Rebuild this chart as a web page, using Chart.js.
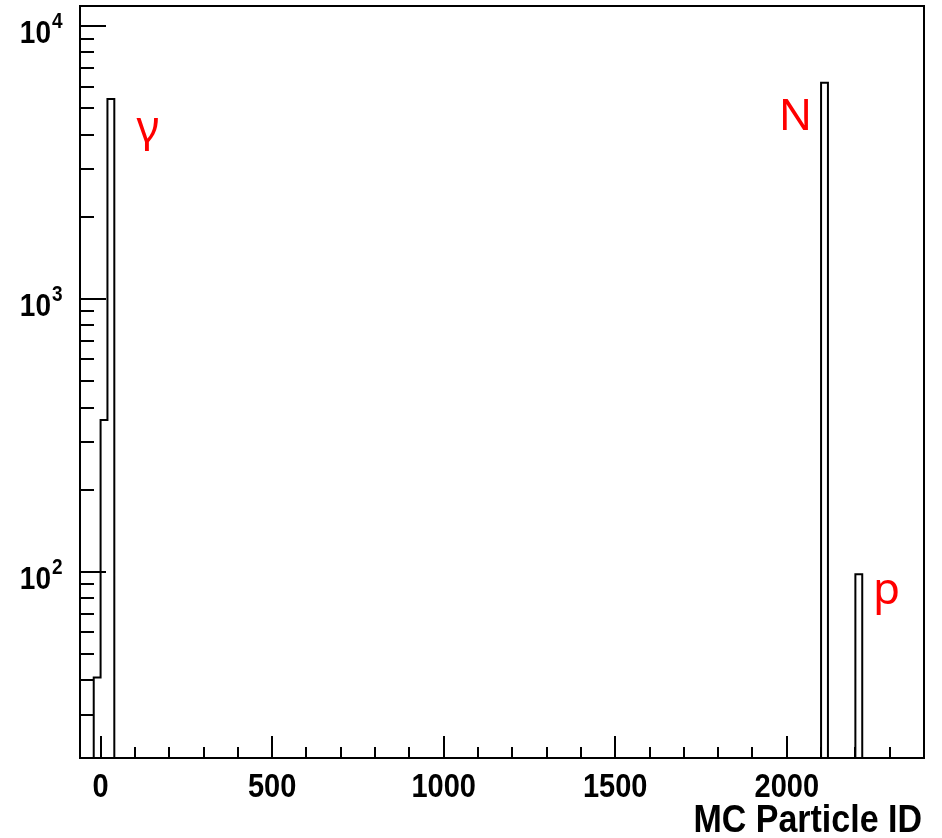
<!DOCTYPE html>
<html>
<head>
<meta charset="utf-8">
<script src="https://cdn.jsdelivr.net/npm/chart.js@4"></script>
<style>
  html, body { margin: 0; padding: 0; background: #fff; }
  canvas { display: block; }
</style>
</head>
<body>
<canvas id="histChart" width="942" height="838"></canvas>
<script>
// MC particle ID histogram (ROOT style, log y)

const binWidth = 20;
const xMin = -60;
const xMax = 2400;
const yMin = 20.8;
const yMax = 11840;

// non-empty bins only (lower edge + content)
const binLow = [-20, 0, 20, 2100, 2200];
const counts = [41, 360, 5400, 6200, 98];

// axis labels
const xLabelTicks = [0, 500, 1000, 1500, 2000];
const yLabelTicks = [100, 1000, 10000];
const yLabelExp = ['2', '3', '4'];
const xTitle = 'MC Particle ID';

// red annotations
const annotText = ['\u03B3', 'N', 'p'];
const annotX = [105, 1977, 2251];
const annotY = [3760, 4160, 76];

const FONT = '"Liberation Sans", Arial, sans-serif';
const STRETCH = 1.15; // the ROOT text in the picture is a bit tall

// Build step outline like ROOT draws a histogram
function buildOutline() {
    const pts = [{ x: xMin, y: yMin }];
    let prevHi = null;
    for (let i = 0; i < binLow.length; i++) {
        const lo = binLow[i];
        const hi = lo + binWidth;
        if (prevHi !== lo) {
            if (prevHi !== null) pts.push({ x: prevHi, y: yMin });
            pts.push({ x: lo, y: yMin });
        }
        pts.push({ x: lo, y: counts[i] });
        pts.push({ x: hi, y: counts[i] });
        prevHi = hi;
    }
    pts.push({ x: prevHi, y: yMin });
    pts.push({ x: xMax, y: yMin });
    return pts;
}

// text with a vertical stretch, baseline kept at y
function tallText(ctx, text, x, y) {
    ctx.save();
    ctx.translate(x, y);
    ctx.scale(1, STRETCH);
    ctx.fillText(text, 0, 0);
    ctx.restore();
}

// Frame, inward ticks and labels
const rootAxes = {
    id: 'rootAxes',
    afterDraw(chart) {
        const ctx = chart.ctx;
        const area = chart.chartArea;
        const xs = chart.scales.x;
        const ys = chart.scales.y;
        const L = Math.round(area.left), R = Math.round(area.right);
        const T = Math.round(area.top), B = Math.round(area.bottom);

        ctx.save();
        ctx.strokeStyle = '#000';
        ctx.lineWidth = 2;

        // y ticks (left side, pointing in)
        ctx.beginPath();
        for (let d = 1; d <= 4; d++) {
            for (let m = 1; m <= 9; m++) {
                const v = m * Math.pow(10, d);
                if (v <= yMin || v >= yMax) continue;
                const py = Math.round(ys.getPixelForValue(v));
                const len = m === 1 ? 26 : 14;
                ctx.moveTo(L, py);
                ctx.lineTo(L + len, py);
            }
        }
        // x ticks (bottom, pointing up)
        for (let v = Math.ceil(xMin / 100) * 100; v < xMax; v += 100) {
            const px = Math.round(xs.getPixelForValue(v));
            const len = v % 500 === 0 ? 22 : 11;
            ctx.moveTo(px, B);
            ctx.lineTo(px, B - len);
        }
        ctx.stroke();

        // frame
        ctx.strokeRect(L, T, R - L, B - T);

        // y labels 10^n
        ctx.fillStyle = '#000';
        ctx.textBaseline = 'alphabetic';
        yLabelTicks.forEach((v, i) => {
            const py = ys.getPixelForValue(v);
            ctx.font = 'bold 28px ' + FONT;
            ctx.textAlign = 'right';
            tallText(ctx, '10', 51, py + 17);
            ctx.font = 'bold 19px ' + FONT;
            ctx.textAlign = 'left';
            tallText(ctx, yLabelExp[i], 52, py + 2);
        });

        // x labels
        ctx.font = 'bold 29px ' + FONT;
        ctx.textAlign = 'center';
        xLabelTicks.forEach(v => {
            tallText(ctx, String(v), xs.getPixelForValue(v), 797);
        });

        // axis title
        ctx.font = 'bold 34px ' + FONT;
        ctx.textAlign = 'right';
        tallText(ctx, xTitle, 922, 832);

        // annotations
        ctx.fillStyle = '#ff0000';
        ctx.font = '44px "Noto Sans", "Open Sans", sans-serif';
        ctx.textAlign = 'left';
        annotText.forEach((t, i) => {
            ctx.fillText(t, xs.getPixelForValue(annotX[i]), ys.getPixelForValue(annotY[i]));
        });

        ctx.restore();
    }
};

function init() {
    const ctx = document.getElementById('histChart').getContext('2d');
    new Chart(ctx, {
        type: 'line',
        data: {
            datasets: [{
                data: buildOutline(),
                borderColor: '#000',
                borderWidth: 2,
                pointRadius: 0,
                tension: 0,
                fill: false
            }]
        },
        options: {
            responsive: false,
            animation: false,
            layout: {
                padding: { left: 80, top: 6, right: 18, bottom: 80 }
            },
            scales: {
                x: { type: 'linear', min: xMin, max: xMax, display: false },
                y: { type: 'logarithmic', min: yMin, max: yMax, display: false }
            },
            plugins: {
                legend: { display: false },
                tooltip: { enabled: false }
            }
        },
        plugins: [rootAxes]
    });
}

document.addEventListener('DOMContentLoaded', init);
</script>
</body>
</html>
